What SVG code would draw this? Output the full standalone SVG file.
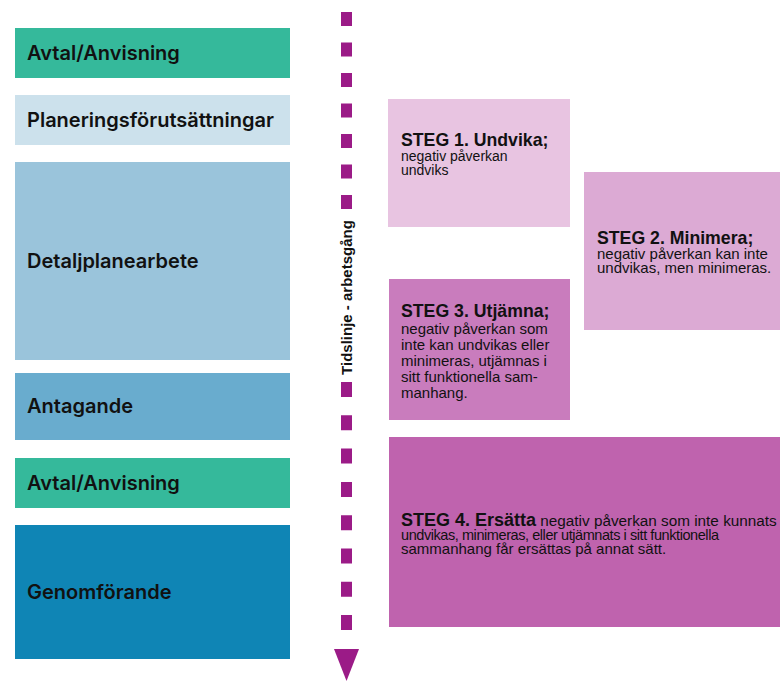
<svg xmlns="http://www.w3.org/2000/svg" width="780" height="682" viewBox="0 0 780 682">
<style>
.phase{font-family:Inter,"Liberation Sans",sans-serif;font-weight:600;font-size:20px;fill:#111}
.t{font-family:"Liberation Sans",Arial,sans-serif;fill:#111}
.title{font-weight:bold;font-size:17.7px}
.sub{font-size:15px}
.dash{stroke:#9b1b87;stroke-width:11;fill:none}
</style>
<rect width="780" height="682" fill="#fff"/>
<g id="avtal1"><rect x="15" y="28" width="275" height="50" fill="#35b99b"/><text class="phase" x="27" y="60">Avtal/Anvisning</text></g>
<g id="planering"><rect x="15" y="95" width="275" height="50" fill="#cce1ec"/><text class="phase" x="27" y="127">Planeringsförutsättningar</text></g>
<g id="detaljplan"><rect x="15" y="162" width="275" height="198" fill="#9ac4db"/><text class="phase" x="27" y="268">Detaljplanearbete</text></g>
<g id="antagande"><rect x="15" y="373" width="275" height="67" fill="#69acce"/><text class="phase" x="27" y="413">Antagande</text></g>
<g id="avtal2"><rect x="15" y="458" width="275" height="50" fill="#35b99b"/><text class="phase" x="27" y="490">Avtal/Anvisning</text></g>
<g id="genomforande"><rect x="15" y="525" width="275" height="134" fill="#0f85b5"/><text class="phase" x="27" y="599">Genomförande</text></g>

<g id="steg1"><rect x="388" y="99" width="182" height="128" fill="#e8c4e1"/>
<text class="t title" x="401" y="146">STEG 1. Undvika;</text>
<text class="t" font-size="14" x="401" y="161">negativ påverkan</text>
<text class="t" font-size="14" x="401" y="175">undviks</text></g>
<g id="steg2"><rect x="584" y="172" width="196" height="158" fill="#dcaad4"/>
<text class="t title" x="597" y="244">STEG 2. Minimera;</text>
<text class="t sub" x="597" y="259">negativ påverkan kan inte</text>
<text class="t sub" x="597" y="273">undvikas, men minimeras.</text></g>
<g id="steg3"><rect x="389" y="279" width="181" height="141" fill="#c97cbd"/>
<text class="t title" x="401" y="317">STEG 3. Utjämna;</text>
<text class="t sub" x="401" y="334">negativ påverkan som</text>
<text class="t sub" x="401" y="350">inte kan undvikas eller</text>
<text class="t sub" x="401" y="366">minimeras, utjämnas i</text>
<text class="t sub" x="401" y="382">sitt funktionella sam-</text>
<text class="t sub" x="401" y="398">manhang.</text></g>
<g id="steg4"><rect x="389" y="437" width="391" height="190" fill="#bf63ae"/>
<text class="t" font-size="15.3" x="401" y="526"><tspan font-weight="bold" font-size="18">STEG 4. Ersätta</tspan> negativ påverkan som inte kunnats</text>
<text class="t" font-size="14.5" x="401" y="540" textLength="318">undvikas, minimeras, eller utjämnats i sitt funktionella</text>
<text class="t sub" x="401" y="554">sammanhang får ersättas på annat sätt.</text></g>

<g id="connectors">
<line class="dash" x1="346.5" y1="12" x2="346.5" y2="209" stroke-dasharray="14 16.5"/>
<line class="dash" x1="346.5" y1="382" x2="346.5" y2="630" stroke-dasharray="15 18.3"/>
<polygon points="334,649 359,649 346.5,681" fill="#9b1b87"/>
<text class="t" font-weight="bold" font-size="15" transform="translate(351.5,297.5) rotate(-90)" text-anchor="middle">Tidslinje - arbetsgång</text>
</g>
</svg>
